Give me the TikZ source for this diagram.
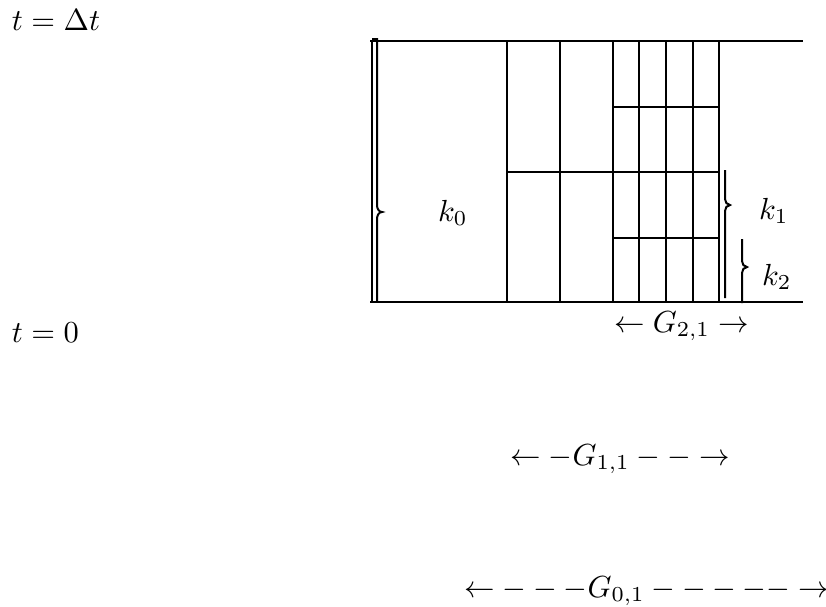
\documentclass[tikz,border=0pt]{standalone}
\usepackage{graphicx}
\newcommand{\sbx}[1]{\scalebox{3.05}{$#1$}}
\tikzset{
  grid/.style={line width=2.3pt, line cap=rect},
  gridthick/.style={line width=2.9pt, line cap=rect},
  gridthin/.style={line width=1.9pt, line cap=rect},
  bracepath/.style={line width=2.0pt},
  lbl/.style={inner sep=0pt, outer sep=0pt, anchor=base west}
}
\begin{document}
\begin{tikzpicture}[x=1pt,y=-1pt]
\useasboundingbox (0,0) rectangle (826,606);
% frame lines
\draw[grid] (371,41) -- (802,41);
\draw[grid] (371,302) -- (802,302);
\draw[grid] (372,41) -- (372,302);
% vertical lines
\draw[grid] (507,41) -- (507,302);
\draw[grid] (560,41) -- (560,302);
\draw[grid] (613,41) -- (613,302);
\draw[gridthick] (639,41) -- (639,302);
\draw[grid] (666,41) -- (666,302);
\draw[grid] (693,41) -- (693,302);
\draw[grid] (719,41) -- (719,302);
% horizontal lines
\draw[grid] (613,107) -- (719,107);
\draw[gridthick] (507,172) -- (719,172);
\draw[gridthin] (613,238) -- (719,238);
% brace k0
\draw[bracepath] (372,39) -- (377,39) -- (377,205)
  to[out=-90,in=180] (382,212) to[out=180,in=90] (377,219) -- (377,302);
% brace k1
\draw[bracepath] (725,170) -- (725,199)
  to[out=-90,in=180] (730,205) to[out=180,in=90] (725,211) -- (725,298);
% brace k2
\draw[bracepath] (742,239) -- (742,261)
  to[out=-90,in=180] (747,267) to[out=180,in=90] (742,273) -- (742,303);
% labels
\node[lbl] (tdt) at (12,30) {\sbx{t=\Delta t}};
\node[lbl] (tz) at (12,342) {\sbx{t=0}};
\node[lbl] (k0) at (438,221) {\sbx{k_0}};
\node[lbl] (k1) at (759,219) {\sbx{k_1}};
\node[lbl] (k2) at (762,285) {\sbx{k_2}};
\node[lbl] (g21) at (614,332) {\sbx{\leftarrow G_{2,1} \rightarrow}};
\node[lbl] (g11) at (510,465) {\sbx{\leftarrow -G_{1,1} - - \rightarrow}};
\node[lbl] (g01) at (464,597) {\sbx{\leftarrow - - - G_{0,1} - - - - - \rightarrow}};
\end{tikzpicture}
\end{document}
